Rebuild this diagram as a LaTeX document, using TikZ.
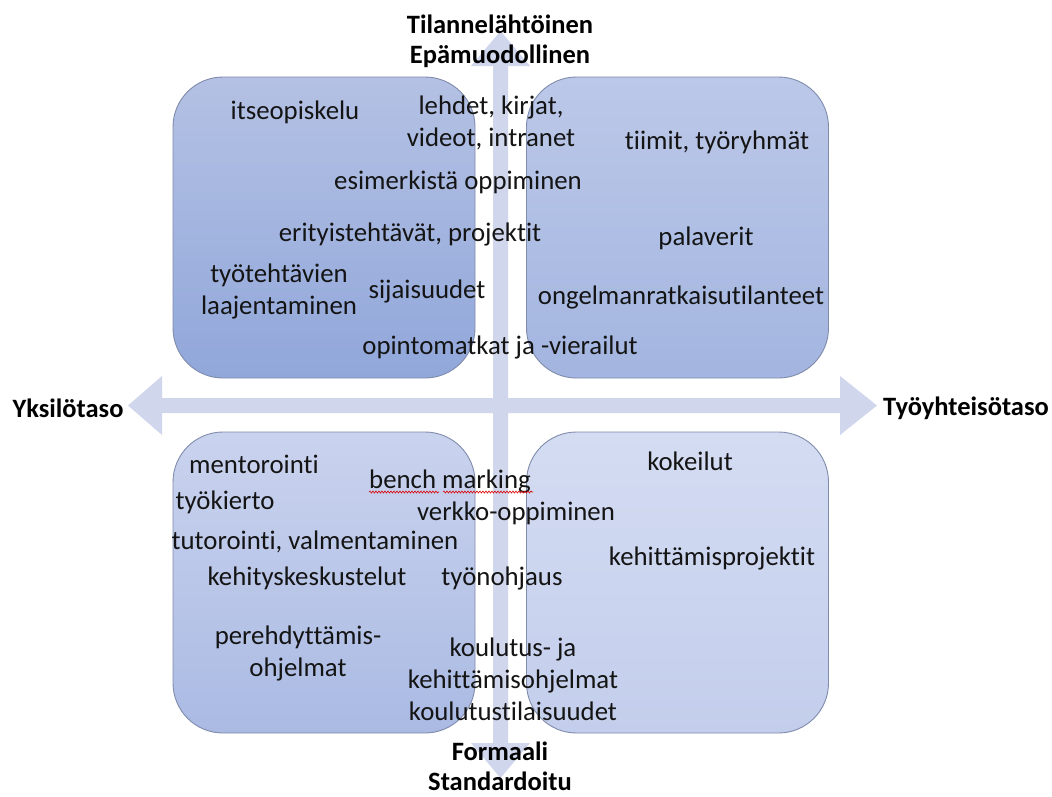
\documentclass[tikz,border=0pt]{standalone}
\usepackage{fontspec}
\setmainfont{Carlito}[Ligatures={NoCommon}]
\usetikzlibrary{decorations.pathmorphing}

\definecolor{axisfill}{RGB}{208,214,236}
\definecolor{quadedge}{RGB}{128,140,172}
\definecolor{tlTop}{RGB}{180,193,228}
\definecolor{tlBot}{RGB}{145,167,218}
\definecolor{trTop}{RGB}{188,200,232}
\definecolor{trBot}{RGB}{163,181,224}
\definecolor{blTop}{RGB}{202,211,238}
\definecolor{blBot}{RGB}{170,186,227}
\definecolor{brTop}{RGB}{212,220,242}
\definecolor{brBot}{RGB}{195,206,236}
\definecolor{txt}{RGB}{20,20,20}

\begin{document}
\begin{tikzpicture}[x=1pt,y=-1pt,
  quad/.style={draw=quadedge, line width=0.9pt, rounded corners=50pt,
    minimum width=302pt, minimum height=301pt, inner sep=0pt},
  item/.style={font=\fontsize{26.8}{32}\selectfont, text=txt, align=center, inner sep=0pt},
  pole/.style={font=\bfseries\fontsize{26.5}{30}\selectfont, text=black, align=center, inner sep=0pt},
  axis/.style={fill=axisfill, draw=none}]

\useasboundingbox[fill=white] (0,0) rectangle (1052,796);

% axis ends
\coordinate (west) at (128,405.5);
\coordinate (east) at (877,405.5);
\coordinate (north) at (500.5,31);
\coordinate (south) at (500.5,778);

% horizontal double arrow
\fill[axis] (west) -- (162,376) -- (162,398) -- (840,398) -- (840,376)
  -- (east) -- (840,435) -- (840,413) -- (162,413) -- (162,435) -- cycle;
% vertical double arrow
\fill[axis] (north) -- (530,66) -- (508,66) -- (508,743) -- (530,743)
  -- (south) -- (471,743) -- (493,743) -- (493,66) -- (471,66) -- cycle;

% four quadrants
\node[quad, top color=tlTop, bottom color=tlBot] (qtl) at (324,227.5) {};
\node[quad, top color=trTop, bottom color=trBot] (qtr) at (677.5,227.5) {};
\node[quad, top color=blTop, bottom color=blBot] (qbl) at (324,582.5) {};
\node[quad, top color=brTop, bottom color=brBot] (qbr) at (677.5,582.5) {};

% pole labels
\node[pole] (pn) at (500,41) {Tilannelähtöinen\\Epämuodollinen};
\node[pole] (ps) at (500,766) {Formaali\\Standardoitu};
\node[pole] (pw) at (68,408) {Yksilötaso};
\node[pole] (pe) at (966,408) {Työyhteisötaso};

% upper left
\node[item] (i1) at (295,112) {itseopiskelu};
\node[item] (i2) at (491,123) {lehdet, kirjat,\\videot, intranet};
\node[item] (i3) at (458,182) {esimerkistä oppiminen};
\node[item] (i4) at (410,234) {erityistehtävät, projektit};
\node[item] (i5) at (279,291) {työtehtävien\\laajentaminen};
\node[item] (i6) at (427,291) {sijaisuudet};
\node[item] (i7) at (500,347) {opintomatkat ja -vierailut};

% upper right
\node[item] (i8) at (717,142) {tiimit, työryhmät};
\node[item] (i9) at (706,238) {palaverit};
\node[item] (i10) at (681,297) {ongelmanratkaisutilanteet};

% lower left
\node[item] (i11) at (254,464) {mentorointi};
\node[item] (i12) at (450,481) {bench marking};
\node[item] (i13) at (225,502) {työkierto};
\node[item] (i14) at (516,513) {verkko-oppiminen};
\node[item] (i15) at (315,542) {tutorointi, valmentaminen};
\node[item] (i16) at (307,578) {kehityskeskustelut};
\node[item] (i17) at (502,578) {työnohjaus};
\node[item] (i18) at (298,653) {perehdyttämis-\\ohjelmat};
\node[item] (i19) at (513,679) {koulutus- ja\\kehittämisohjelmat\\koulutustilaisuudet};

% lower right
\node[item] (i20) at (690,461) {kokeilut};
\node[item] (i21) at (712,558) {kehittämisprojektit};

% wavy underline below "bench marking"
\draw[red!85!black, line width=0.6pt,
  decorate, decoration={snake, amplitude=1pt, segment length=3pt}]
  (369,492) -- (439,492);
\draw[red!85!black, line width=0.6pt,
  decorate, decoration={snake, amplitude=1pt, segment length=3pt}]
  (443,492) -- (533,492);
\end{tikzpicture}
\end{document}
